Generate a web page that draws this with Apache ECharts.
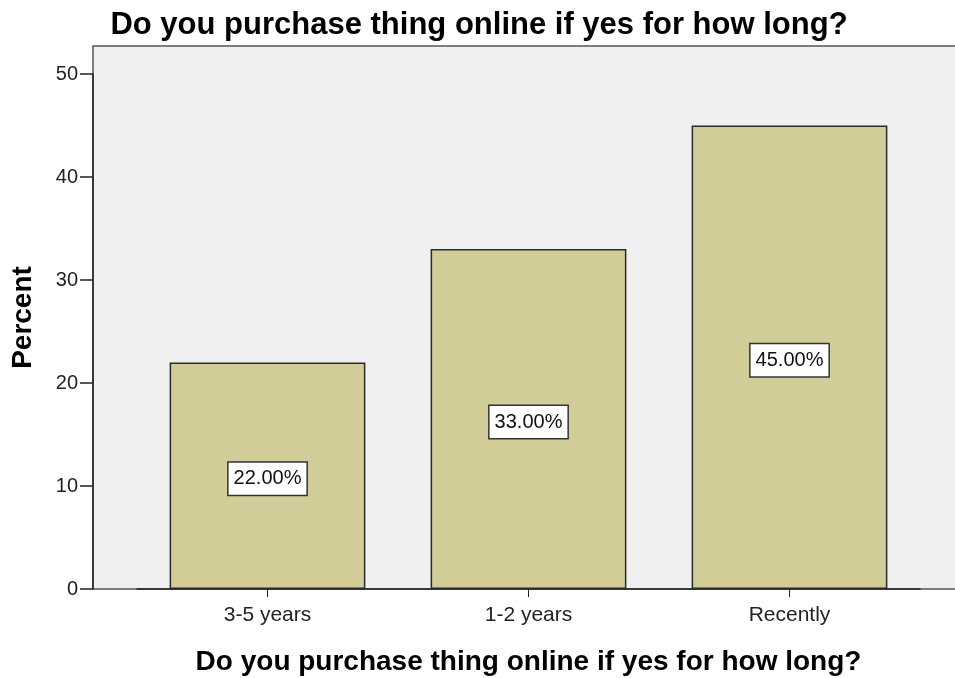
<!DOCTYPE html>
<html>
<head>
<meta charset="utf-8">
<script src="https://cdn.jsdelivr.net/npm/echarts@6/dist/echarts.min.js"></script>
<style>
  html, body { margin: 0; padding: 0; background: #ffffff; }
  #chart { width: 955px; height: 678px; }
</style>
</head>
<body>
<div id="chart"></div>
<script>
// Survey: how long respondents have been buying online
const categories = ['3-5 years', '1-2 years', 'Recently'];
const percents = [22, 33, 45];
const yTicks = [0, 10, 20, 30, 40, 50];

const questionText = 'Do you purchase thing online if yes for how long?';
const fontFamily = '"Liberation Sans", Arial, sans-serif';

const chart = echarts.init(document.getElementById('chart'), null, { renderer: 'canvas' });

chart.setOption({
  animation: false,
  backgroundColor: '#ffffff',
  title: {
    text: questionText,
    left: 474,
    textAlign: 'center',
    top: 5,
    textStyle: { fontFamily, fontWeight: 'bold', fontSize: 31, color: '#000000' }
  },
  grid: [
    // frame with grey plot background
    { left: 93, top: 46, right: -4, bottom: 89, show: true, backgroundColor: '#f0f0f0',
      borderColor: '#555555', borderWidth: 1.5, containLabel: false, outerBoundsMode: 'none' },
    // bars and axes
    { left: 137, top: 74, right: 35, bottom: 89, containLabel: false, outerBoundsMode: 'none' }
  ],
  xAxis: [
    { gridIndex: 0, type: 'value', show: false, min: 0, max: 1 },
    {
      gridIndex: 1,
      type: 'category',
      data: categories,
      boundaryGap: true,
      axisLine: { show: true, lineStyle: { color: '#222222', width: 1.5 } },
      axisTick: { show: true, alignWithLabel: true, length: 8, lineStyle: { color: '#222222' } },
      axisLabel: { fontFamily, fontSize: 21, color: '#222222', margin: 16 },
      name: questionText,
      nameLocation: 'middle',
      nameGap: 73,
      nameTextStyle: { fontFamily, fontWeight: 'bold', fontSize: 28, color: '#000000',
        verticalAlign: 'middle' }
    }
  ],
  yAxis: [
    {
      // frame axis: carries only the axis title, centred on the full plot frame
      gridIndex: 0, type: 'value', min: 0, max: 1,
      axisLine: { show: false }, axisTick: { show: false },
      axisLabel: { show: false }, splitLine: { show: false },
      name: 'Percent',
      nameLocation: 'middle',
      nameGap: 70,
      nameTextStyle: { fontFamily, fontWeight: 'bold', fontSize: 28, color: '#000000',
        verticalAlign: 'middle' }
    },
    {
      gridIndex: 1,
      type: 'value',
      min: yTicks[0],
      max: yTicks[yTicks.length - 1],
      interval: yTicks[1] - yTicks[0],
      offset: 44,
      splitLine: { show: false },
      axisLine: { show: true, lineStyle: { color: '#222222', width: 1.5 } },
      axisTick: { show: true, length: 13, lineStyle: { color: '#222222', width: 1.5 } },
      axisLabel: { fontFamily, fontSize: 20, color: '#222222', margin: 15 }
    }
  ],
  series: [
    {
      type: 'bar',
      xAxisIndex: 1,
      yAxisIndex: 1,
      data: percents,
      barWidth: '75%',
      itemStyle: { color: '#d2cd98', borderColor: '#2a2a2a', borderWidth: 1.5 },
      label: {
        show: true,
        position: 'inside',
        offset: [0, 3],
        formatter: p => p.value.toFixed(2) + '%',
        fontFamily,
        fontSize: 20,
        lineHeight: 22,
        color: '#111111',
        backgroundColor: '#ffffff',
        borderColor: '#333333',
        borderWidth: 1.5,
        padding: [6, 5, 4, 5]
      }
    }
  ]
});
</script>
</body>
</html>
